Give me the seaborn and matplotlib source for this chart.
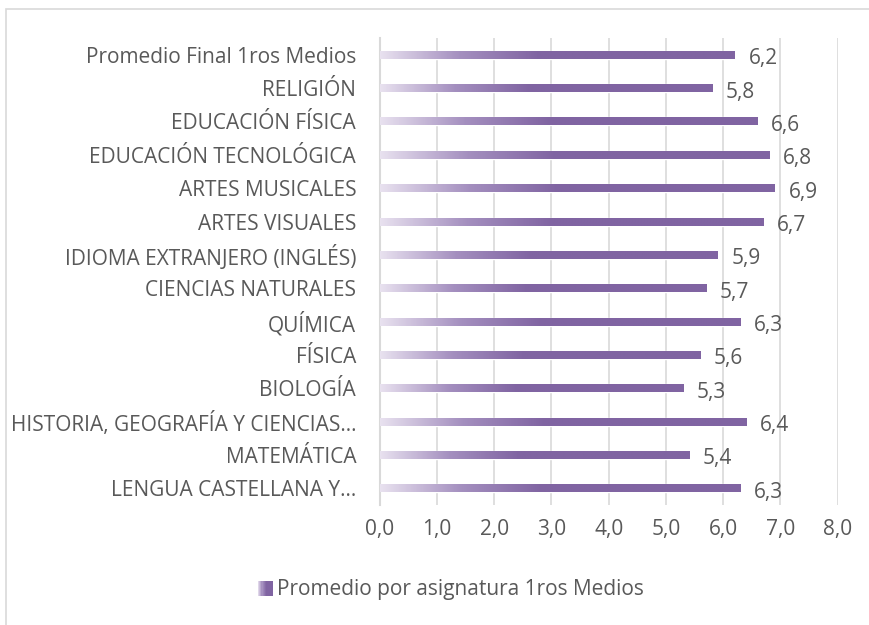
import matplotlib
matplotlib.use("Agg")
import matplotlib.pyplot as plt
import numpy as np
import pandas as pd
import seaborn as sns
from matplotlib.colors import LinearSegmentedColormap
from matplotlib.legend_handler import HandlerBase
from matplotlib.patches import Rectangle

categories = [
    "Promedio Final 1ros Medios",
    "RELIGIÓN",
    "EDUCACIÓN FÍSICA",
    "EDUCACIÓN TECNOLÓGICA",
    "ARTES MUSICALES",
    "ARTES VISUALES",
    "IDIOMA EXTRANJERO (INGLÉS)",
    "CIENCIAS NATURALES",
    "QUÍMICA",
    "FÍSICA",
    "BIOLOGÍA",
    "HISTORIA, GEOGRAFÍA Y CIENCIAS…",
    "MATEMÁTICA",
    "LENGUA CASTELLANA Y…",
]
values = [6.2, 5.8, 6.6, 6.8, 6.9, 6.7, 5.9, 5.7, 6.3, 5.6, 5.3, 6.4, 5.4, 6.3]
series_name = "Promedio por asignatura 1ros Medios"
x_ticks = [0, 1, 2, 3, 4, 5, 6, 7, 8]

TEXT = "#595959"
GRID = "#D9D9D9"
LIGHT = "#E8E1EF"
PURPLE = "#8064A2"
FS = 15
cmap = LinearSegmentedColormap.from_list("grad", [LIGHT, "#A48FBF", PURPLE])


def fmt(v):
    return f"{v:.1f}".replace(".", ",")


class GradientHandler(HandlerBase):
    def create_artists(self, legend, orig_handle, xdescent, ydescent,
                       width, height, fontsize, trans):
        side = height * 1.0
        x0 = xdescent + width - side
        n = 12
        arts = []
        for k in range(n):
            t = min(1.0, (k + 0.5) / n / 0.6)
            r = Rectangle((x0 + side * k / n, -ydescent), side / n + 0.3, side,
                          facecolor=cmap(t), edgecolor="none", transform=trans)
            arts.append(r)
        return arts


sns.set_theme(style="white")
plt.rcParams["font.family"] = ["Open Sans", "DejaVu Sans"]

df = pd.DataFrame({"categoria": categories, "valor": values})

fig = plt.figure(figsize=(8.69, 6.25), dpi=100)
ax = fig.add_axes([0.437, 0.192, 0.527, 0.747])

sns.barplot(data=df, x="valor", y="categoria", orient="h", width=0.24,
            color=PURPLE, saturation=1, ax=ax, zorder=2)

grad = np.clip(np.linspace(0, 1, 256) / 0.45, 0, 1).reshape(1, -1)
for patch in ax.patches:
    x, y = patch.get_x(), patch.get_y()
    w, h = patch.get_width(), patch.get_height()
    im = ax.imshow(grad, cmap=cmap, vmin=0, vmax=1, aspect="auto",
                   extent=[x, x + w, y + h, y], zorder=3, interpolation="bilinear")
    im.set_clip_path(patch)

for i, v in enumerate(values):
    ax.text(v + 0.24, i + 0.12, fmt(v), va="center", ha="left",
            fontsize=FS, color=TEXT)

ax.set_xlim(0, 8)
ax.set_ylim(len(categories) - 0.5, -0.5)
ax.set_xticks(x_ticks)
ax.set_xticklabels([fmt(t) for t in x_ticks])
ax.set_xlabel("")
ax.set_ylabel("")
ax.xaxis.grid(True, color=GRID, linewidth=1.2, zorder=0)
ax.set_axisbelow(True)
for side in ["top", "right", "bottom"]:
    ax.spines[side].set_visible(False)
ax.spines["left"].set_color(GRID)
ax.spines["left"].set_linewidth(1.5)
ax.tick_params(axis="y", length=0, pad=17, labelsize=FS, labelcolor=TEXT)
ax.tick_params(axis="x", length=0, pad=10, labelsize=FS, labelcolor=TEXT)

handle = Rectangle((0, 0), 1, 1)
fig.legend([handle], [series_name], handler_map={Rectangle: GradientHandler()},
           loc="center", bbox_to_anchor=(0.518, 0.056), frameon=False,
           fontsize=FS, labelcolor=TEXT, handlelength=0.75, handletextpad=0.2)

fig.patches.append(Rectangle((6 / 869, -0.02), 1.0, 1 - 9 / 625 + 0.02,
                             transform=fig.transFigure, fill=False,
                             edgecolor=GRID, linewidth=1.2))

fig.savefig("out.png", dpi=100)
